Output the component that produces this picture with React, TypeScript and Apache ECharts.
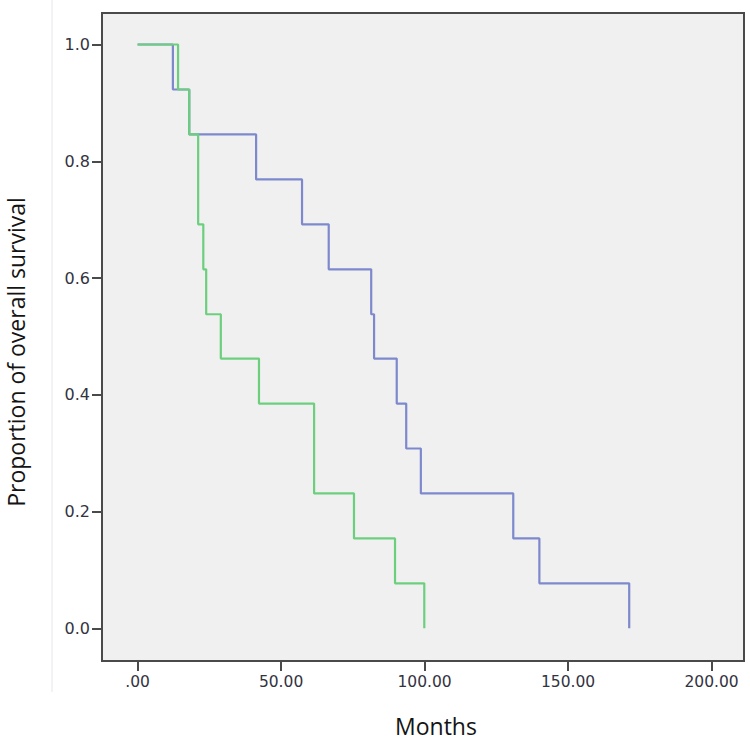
import React, { useEffect, useRef } from "react";
import * as echarts from "echarts";

// Kaplan-Meier step data (months, proportion surviving)
const blueTimes = [0, 12.3, 18.0, 41.3, 57.3, 66.6, 81.4, 82.4, 90.3, 93.6, 98.7, 130.9, 140.0, 171.3];
const blueSurv = [1.0, 0.923, 0.846, 0.769, 0.692, 0.615, 0.538, 0.462, 0.385, 0.308, 0.231, 0.154, 0.077, 0.0];
const greenTimes = [0, 14.1, 18.0, 21.1, 22.9, 23.9, 29.0, 42.3, 61.5, 75.4, 89.7, 99.9];
const greenSurv = [1.0, 0.923, 0.846, 0.692, 0.615, 0.538, 0.462, 0.385, 0.231, 0.154, 0.077, 0.0];

const xTicks = [0, 50, 100, 150, 200];
const yTicks = [0, 0.2, 0.4, 0.6, 0.8, 1.0];

const xTitle = "Months";
const yTitle = "Proportion of overall survival";

const BLUE = "#7d89cc";
const GREEN = "#6ccf7e";
const AXIS = "#4a4a4a";

export default function App() {
  const ref = useRef<HTMLDivElement>(null);

  useEffect(() => {
    if (!ref.current) return;
    const chart = echarts.init(ref.current, null, { renderer: "svg" });
    const blueData = blueTimes.map((t, i) => [t, blueSurv[i]]);
    const greenData = greenTimes.map((t, i) => [t, greenSurv[i]]);

    chart.setOption({
      animation: false,
      backgroundColor: "#ffffff",
      grid: {
        left: 102,
        top: 13,
        right: 6,
        bottom: 81,
        containLabel: false,
        show: true,
        backgroundColor: "#f0f0f0",
        borderColor: AXIS,
        borderWidth: 2,
      },
      xAxis: {
        type: "value",
        min: -12.4,
        max: 211.3,
        splitLine: { show: false },
        axisLine: { show: true, onZero: false, lineStyle: { color: AXIS, width: 2 } },
        axisTick: {
          show: true,
          inside: false,
          length: 10,
          customValues: xTicks,
          lineStyle: { color: AXIS, width: 2 },
        },
        axisLabel: {
          customValues: xTicks,
          margin: 13,
          color: "#33333f",
          fontFamily: "DejaVu Sans",
          fontSize: 15.5,
          formatter: (v: number) => (v === 0 ? ".00" : v.toFixed(2)),
        },
      },
      yAxis: {
        type: "value",
        min: -0.056,
        max: 1.054,
        splitLine: { show: false },
        axisLine: { show: true, onZero: false, lineStyle: { color: AXIS, width: 2 } },
        axisTick: {
          show: true,
          inside: false,
          length: 10,
          customValues: yTicks,
          lineStyle: { color: AXIS, width: 2 },
        },
        axisLabel: {
          customValues: yTicks,
          margin: 12,
          color: "#33333f",
          fontFamily: "DejaVu Sans",
          fontSize: 16,
          formatter: (v: number) => v.toFixed(1),
        },
      },
      graphic: [
        {
          type: "line",
          shape: { x1: 52, y1: 0, x2: 52, y2: 692 },
          style: { stroke: "#e6e6ee", lineWidth: 1 },
          silent: true,
        },
        {
          type: "text",
          x: 436,
          y: 726,
          style: {
            text: xTitle,
            font: '23px "Open Sans"',
            lineHeight: 24,
            fill: "#141414",
            textAlign: "center",
            textVerticalAlign: "middle",
          },
        },
        {
          type: "text",
          x: 16,
          y: 352,
          rotation: Math.PI / 2,
          style: {
            text: yTitle,
            font: '23px "Open Sans"',
            lineHeight: 24,
            fill: "#141414",
            textAlign: "center",
            textVerticalAlign: "middle",
          },
        },
      ],
      series: [
        {
          type: "line",
          name: "Group 1",
          data: blueData,
          step: "end",
          showSymbol: false,
          symbol: "none",
          lineStyle: { color: BLUE, width: 2.2 },
          z: 2,
        },
        {
          type: "line",
          name: "Group 2",
          data: greenData,
          step: "end",
          showSymbol: false,
          symbol: "none",
          lineStyle: { color: GREEN, width: 2.2 },
          z: 3,
        },
      ],
    });

    return () => chart.dispose();
  }, []);

  return (
    <div
      ref={ref}
      style={{ position: "fixed", left: 0, top: 0, width: 750, height: 742, background: "#fff" }}
    />
  );
}
